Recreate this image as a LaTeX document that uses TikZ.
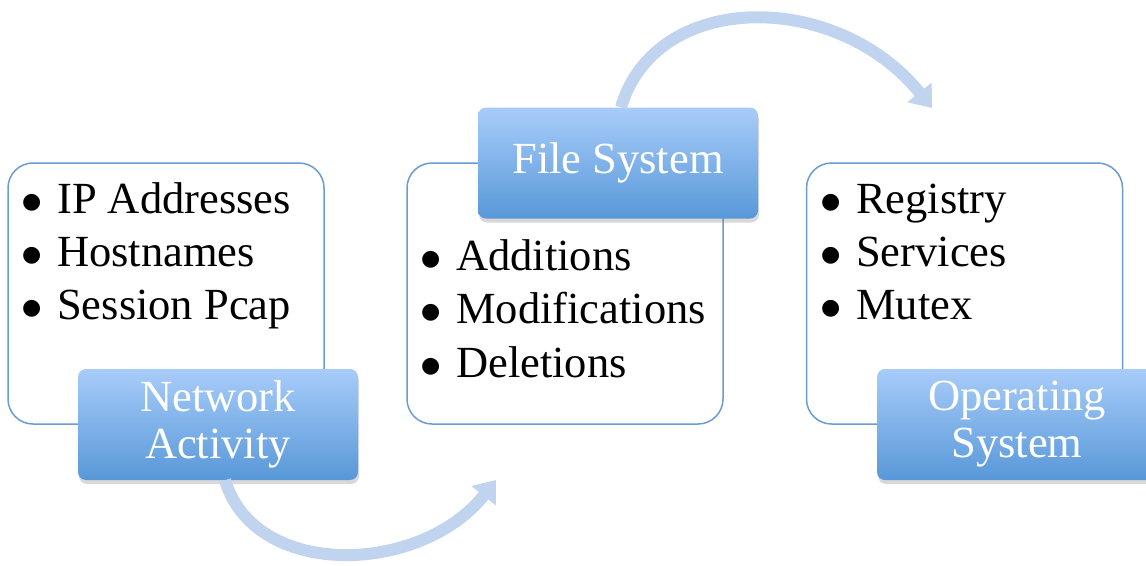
\documentclass[tikz,border=0pt]{standalone}
\usepackage{fontspec}
\setmainfont{Liberation Serif}
\newfontfamily\symfont{DejaVu Sans}
\usepackage{tikz}
\usetikzlibrary{arrows.meta,shadows}
\definecolor{boxline}{RGB}{106,155,209}
\definecolor{tagtop}{RGB}{168,204,250}
\definecolor{tagbottom}{RGB}{88,152,216}
\definecolor{flow}{RGB}{192,212,240}
\newcommand{\dotmark}{\makebox[35pt][l]{\raisebox{5pt}{\symfont\fontsize{22}{22}\selectfont ●}}}
\tikzstyle{listbox} = [draw=boxline, line width=1.5pt, fill=white, rounded corners=25pt, minimum width=316pt, minimum height=261pt]
\tikzstyle{tagbox} = [rounded corners=8pt, top color=tagtop, bottom color=tagbottom, minimum width=280pt, minimum height=111pt, text=white, align=center, font=\fontsize{44.5}{47}\selectfont, drop shadow={opacity=0.3, shadow xshift=1pt, shadow yshift=-4pt}]
\tikzstyle{item} = [inner sep=0pt, anchor=base west, font=\fontsize{44.5}{50}\selectfont]
\tikzstyle{flowarrow} = [draw=flow, line width=12pt, -{Triangle[width=30pt,length=20pt]}]

\begin{document}
\begin{tikzpicture}[x=1pt,y=-1pt]
	\useasboundingbox (0,0) rectangle (1146,565);
	% network activity
	\node[listbox] (netbox) at (166,293.5) {};
	\foreach \t [count=\i] in {IP Addresses, Hostnames, Session Pcap}
		\node[item] (net\i) at (22,213+53*\i-53) {\dotmark\t};
	\node[tagbox] (nettag) at (218,424.5) {Network\\Activity};
	% file system
	\node[listbox] (filebox) at (565,293.5) {};
	\foreach \t [count=\i] in {Additions, Modifications, Deletions}
		\node[item] (file\i) at (421,270+53.5*\i-53.5) {\dotmark\t};
	\node[tagbox] (filetag) at (618,163) {File System};
	% operating system
	\node[listbox] (osbox) at (964.5,293.5) {};
	\foreach \t [count=\i] in {Registry, Services, Mutex}
		\node[item] (os\i) at (821,213+53*\i-53) {\dotmark\t};
	\node[tagbox] (ostag) at (1017,424.5) {Operating\\System};
	% flow arrows
	\coordinate (tip1) at (496,480);
	\coordinate (tip2) at (932,108);
	\draw[flowarrow] ([xshift=7pt]nettag.south) .. controls +(30,100) and +(-75,95) .. (tip1);
	\draw[flowarrow] ([xshift=3pt]filetag.north) .. controls +(35,-118) and +(-95,-118) .. (tip2);
\end{tikzpicture}
\end{document}
